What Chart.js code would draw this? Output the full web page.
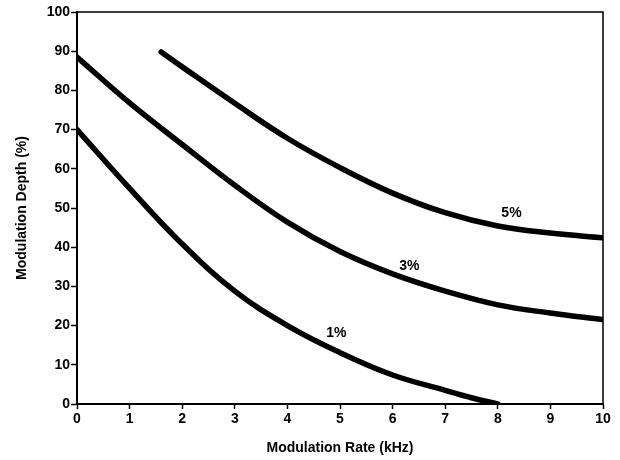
<!DOCTYPE html>
<html>
<head>
<meta charset="utf-8">
<script src="https://cdn.jsdelivr.net/npm/chart.js@4.4.1/dist/chart.umd.min.js"></script>
<style>
  html, body { margin: 0; padding: 0; background: #fff; }
  #wrap { width: 620px; height: 460px; position: relative; }
</style>
</head>
<body>
<div id="wrap"><canvas id="chart"></canvas></div>
<script>
// courbes
const rate1 = [0, 1, 2, 3, 4, 5, 6, 7, 7.5, 8];
const depth1 = [70, 55, 40.8, 28.8, 20, 13.1, 7.4, 3.5, 1.6, 0];

const rate3 = [0, 1, 2, 3, 4, 5, 6, 7, 8, 9, 10];
const depth3 = [88.5, 76.8, 66.2, 55.8, 46.4, 38.9, 33.2, 28.8, 25.3, 23.2, 21.5];

const rate5 = [1.6, 2, 3, 4, 5, 6, 7, 8, 9, 10];
const depth5 = [89.8, 86, 76.7, 67.8, 60.3, 53.8, 48.8, 45.4, 43.6, 42.4];

// étiquettes des courbes
const curveLabels = ['1%', '3%', '5%'];
const labelX = [4.93, 6.32, 8.26];
const labelY = [18.2, 35.2, 48.6];

const xTicks = [0, 1, 2, 3, 4, 5, 6, 7, 8, 9, 10];
const yTicks = [0, 10, 20, 30, 40, 50, 60, 70, 80, 90, 100];

const FONT = '"Liberation Sans", Arial, sans-serif';

const pts = (xs, ys) => xs.map((x, i) => ({ x: x, y: ys[i] }));

const curve = (data) => ({
    data: data,
    borderColor: '#000',
    borderWidth: 5.5,
    pointRadius: 0,
    tension: 0.4,
    borderCapStyle: 'round',
    fill: false,
});

// cadre haut + droite, et textes des courbes
const framePlugin = {
    id: 'frame',
    afterDatasetsDraw(chart) {
        const { ctx, chartArea: a, scales } = chart;
        ctx.save();
        ctx.strokeStyle = '#000';
        ctx.lineWidth = 1.5;
        ctx.beginPath();
        ctx.moveTo(a.left, a.top);
        ctx.lineTo(a.right, a.top);
        ctx.lineTo(a.right, a.bottom);
        ctx.stroke();

        ctx.fillStyle = '#000';
        ctx.font = 'bold 14px ' + FONT;
        ctx.textAlign = 'center';
        ctx.textBaseline = 'middle';
        curveLabels.forEach((t, i) => {
            ctx.fillText(t, scales.x.getPixelForValue(labelX[i]), scales.y.getPixelForValue(labelY[i]));
        });
        ctx.restore();
    },
};

new Chart(document.getElementById('chart'), {
    type: 'line',
    data: {
        datasets: [curve(pts(rate1, depth1)), curve(pts(rate3, depth3)), curve(pts(rate5, depth5))],
    },
    options: {
        responsive: true,
        maintainAspectRatio: false,
        animation: false,
        plugins: { legend: { display: false }, tooltip: { enabled: false } },
        layout: { padding: { top: 12, right: 17, left: 0, bottom: 0 } },
        scales: {
            x: {
                type: 'linear',
                min: 0,
                max: 10,
                afterBuildTicks: (s) => { s.ticks = xTicks.map(v => ({ value: v })); },
                afterFit: (s) => { s.height = 56; },
                grid: { drawOnChartArea: false, drawTicks: true, tickLength: 5, color: '#000', tickWidth: 1.5 },
                border: { color: '#000', width: 2 },
                ticks: { color: '#000', padding: 2, maxRotation: 0, font: { family: FONT, size: 14, weight: 'bold' } },
                title: {
                    display: true,
                    text: 'Modulation Rate (kHz)',
                    color: '#000',
                    padding: { top: 0, bottom: 3 },
                    font: { family: FONT, size: 14, weight: 'bold' },
                },
            },
            y: {
                type: 'linear',
                min: 0,
                max: 100,
                afterBuildTicks: (s) => { s.ticks = yTicks.map(v => ({ value: v })); },
                afterFit: (s) => { s.width = 77; },
                grid: { drawOnChartArea: false, drawTicks: true, tickLength: 6, color: '#000', tickWidth: 1.5 },
                border: { color: '#000', width: 2 },
                ticks: { color: '#000', padding: 1, font: { family: FONT, size: 14, weight: 'bold' } },
                title: {
                    display: true,
                    text: 'Modulation Depth (%)',
                    color: '#000',
                    padding: { top: 14, bottom: 0 },
                    font: { family: FONT, size: 14, weight: 'bold' },
                },
            },
        },
    },
    plugins: [framePlugin],
});
</script>
</body>
</html>
